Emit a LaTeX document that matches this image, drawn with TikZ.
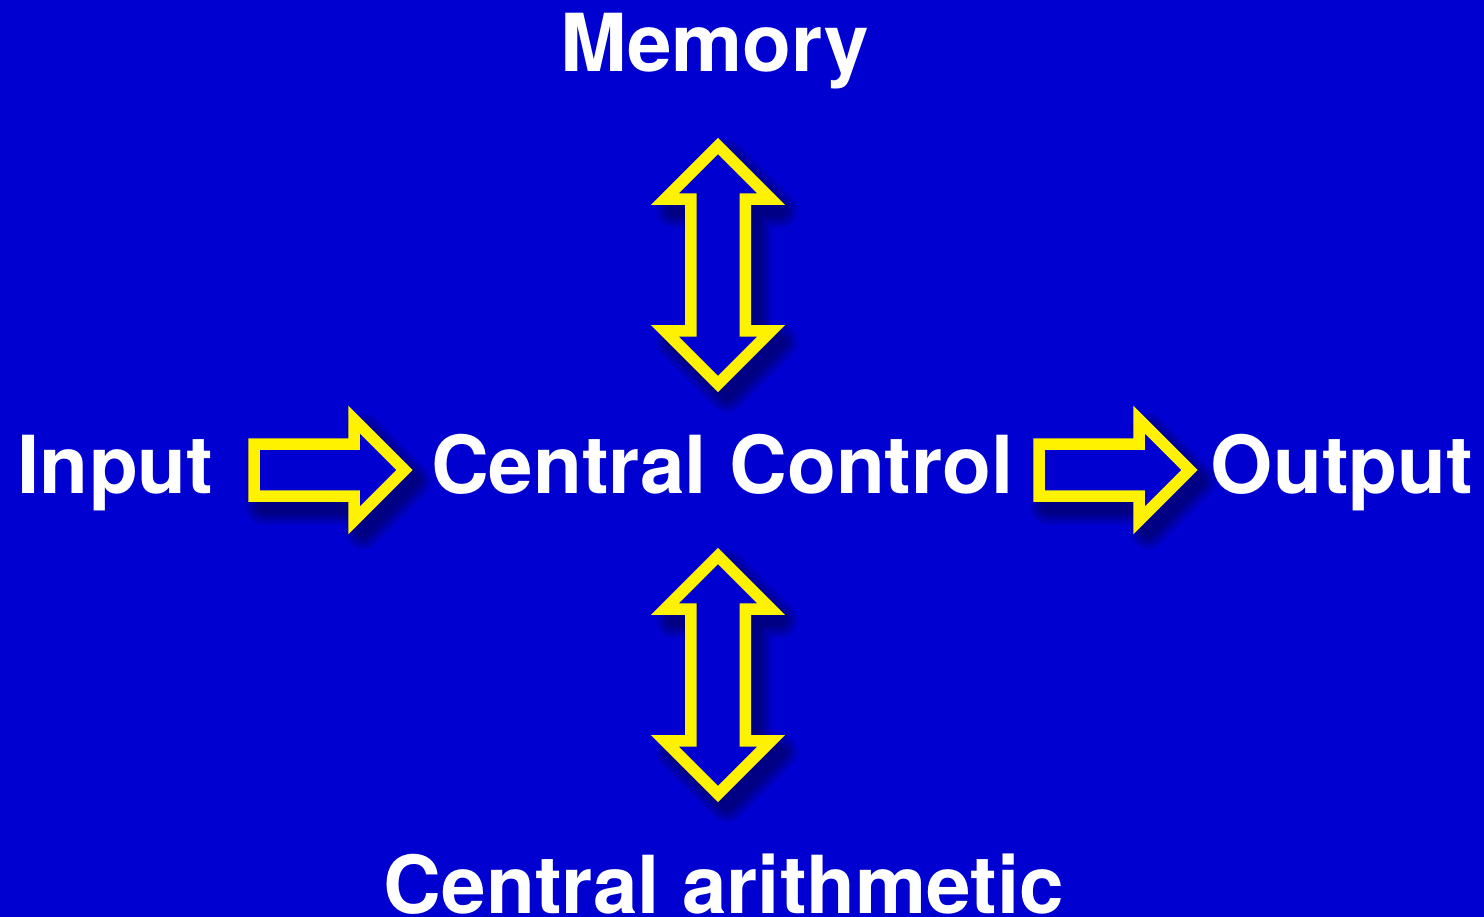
\documentclass[tikz,border=0pt]{standalone}
\usepackage{fontspec}
\setmainfont{TeX Gyre Heros}
\definecolor{bg}{RGB}{0,0,208}
\definecolor{arrowyellow}{RGB}{255,242,0}
\definecolor{shade}{RGB}{0,0,60}
\newcommand\vArrowPath{(0,-118.9) -- (53.2,-65.8) -- (27.25,-65.8) -- (27.25,65.8) -- (53.2,65.8) -- (0,118.9) -- (-53.2,65.8) -- (-27.25,65.8) -- (-27.25,-65.8) -- (-53.2,-65.8) -- cycle}
\newcommand\hArrowPath{(-76,-26) -- (24,-26) -- (24,-50.6) -- (74.6,0) -- (24,50.6) -- (24,26) -- (-76,26) -- cycle}
\tikzset{
  lbl/.style={text=white, font=\fontsize{80}{96}\selectfont\bfseries, inner sep=0pt, anchor=base},
  arrowline/.style={draw=arrowyellow, line width=11.5pt, line join=miter, miter limit=10},
  shadowline/.style={draw=shade, line join=round, opacity=0.16},
}
\begin{document}
\begin{tikzpicture}[x=1pt,y=-1pt]
  \useasboundingbox (0,0) rectangle (1484,917);
  \fill[bg] (0,0) rectangle (1484,917);
  % labels
  \node[lbl] (memory) at (715,72) {Memory};
  \node[lbl] (input) at (115.5,493) {Input};
  \node[lbl] (control) at (722.5,493) {Central Control};
  \node[lbl] (output) at (1342,493) {Output};
  \node[lbl] (arith) at (724,913) {Central arithmetic};
  % arrow centres
  \coordinate (inarrow) at (330,470);
  \coordinate (outarrow) at (1115,470);
  \coordinate (memarrow) at (718,265);
  \coordinate (aritharrow) at (718,675);
  % shadows
  \foreach \c in {memarrow,aritharrow}{
    \begin{scope}[shift={(\c)}, shift={(9,11)}]
      \foreach \w in {34,26,19,13}{\draw[shadowline, line width=\w pt] \vArrowPath;}
    \end{scope}
  }
  \foreach \c in {inarrow,outarrow}{
    \begin{scope}[shift={(\c)}, shift={(9,11)}]
      \foreach \w in {34,26,19,13}{\draw[shadowline, line width=\w pt] \hArrowPath;}
    \end{scope}
  }
  % arrows
  \foreach \c in {memarrow,aritharrow}{
    \begin{scope}[shift={(\c)}]
      \fill[bg] \vArrowPath;
      \draw[arrowline] \vArrowPath;
    \end{scope}
  }
  \foreach \c in {inarrow,outarrow}{
    \begin{scope}[shift={(\c)}]
      \fill[bg] \hArrowPath;
      \draw[arrowline] \hArrowPath;
    \end{scope}
  }
\end{tikzpicture}
\end{document}
